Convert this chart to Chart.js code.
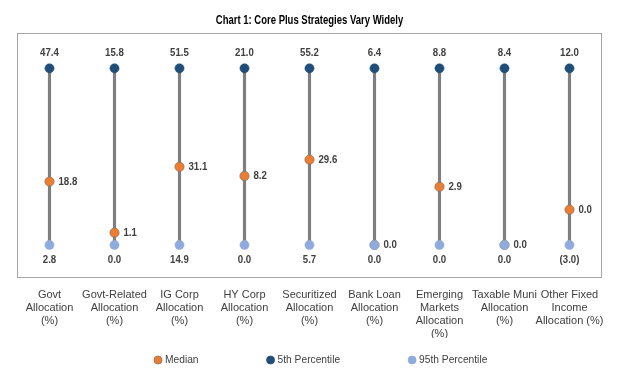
<!DOCTYPE html>
<html>
<head>
<meta charset="utf-8">
<script src="https://cdn.jsdelivr.net/npm/chart.js@4"></script>
<style>
  html, body { margin: 0; padding: 0; background: #ffffff; }
  #wrap { width: 619px; height: 383px; position: relative; }
</style>
</head>
<body>
<div id="wrap"><canvas id="c" width="619" height="383"></canvas></div>
<script>
// ---- Data ----
const categories = [
  ['Govt', 'Allocation', '(%)'],
  ['Govt-Related', 'Allocation', '(%)'],
  ['IG Corp', 'Allocation', '(%)'],
  ['HY Corp', 'Allocation', '(%)'],
  ['Securitized', 'Allocation', '(%)'],
  ['Bank Loan', 'Allocation', '(%)'],
  ['Emerging', 'Markets', 'Allocation', '(%)'],
  ['Taxable Muni', 'Allocation', '(%)'],
  ['Other Fixed', 'Income', 'Allocation (%)']
];
const pct5   = [47.4, 15.8, 51.5, 21.0, 55.2, 6.4, 8.8, 8.4, 12.0];
const median = [18.8, 1.1, 31.1, 8.2, 29.6, 0.0, 2.9, 0.0, 0.0];
const pct95  = [2.8, 0.0, 14.9, 0.0, 5.7, 0.0, 0.0, 0.0, -3.0];
const seriesNames = ['Median', '5th Percentile', '95th Percentile'];
const chartTitle = 'Chart 1: Core Plus Strategies Vary Widely';

// Each category is drawn on its own 0..1 range (95th percentile = 0, 5th percentile = 1)
const norm = (v, i) => {
  const lo = pct95[i], hi = pct5[i];
  return hi === lo ? 0 : (v - lo) / (hi - lo);
};
const fmt = v => v < 0 ? '(' + Math.abs(v).toFixed(1) + ')' : v.toFixed(1);

const FONT = "'Liberation Sans Narrow', 'Arial Narrow', 'Liberation Sans', Arial, sans-serif";
Chart.defaults.font.family = FONT;

const COLORS = { median: '#ED7D31', medianBorder: '#8a7060', p5: '#1F4E79', p95: '#8FAADC', stem: '#7F7F7F' };

// draw horizontally condensed text (reference uses a narrow face)
function narrowText(ctx, text, x, y, align, sx) {
  ctx.save();
  ctx.translate(x, y);
  ctx.scale(sx, 1);
  ctx.textAlign = align;
  ctx.fillText(text, 0, 0);
  ctx.restore();
}

const labelPlugin = {
  id: 'labelsAndBox',
  beforeDatasetsDraw(chart) {
    const { ctx, chartArea: a } = chart;
    ctx.save();
    ctx.strokeStyle = '#A6A6A6';
    ctx.lineWidth = 1;
    ctx.strokeRect(Math.round(a.left) + 0.5, Math.round(a.top) + 0.5,
                   Math.round(a.right - a.left) - 1, Math.round(a.bottom - a.top) - 1);
    // title
    ctx.fillStyle = '#000000';
    ctx.font = 'bold 12.5px ' + FONT;
    ctx.textBaseline = 'middle';
    narrowText(ctx, chartTitle, chart.width / 2, 21, 'center', 0.76);
    ctx.restore();
  },
  afterDatasetsDraw(chart) {
    const { ctx } = chart;
    const mMed = chart.getDatasetMeta(1), m5 = chart.getDatasetMeta(2), m95 = chart.getDatasetMeta(3);
    ctx.save();
    ctx.fillStyle = '#404040';
    ctx.font = 'bold 11.5px ' + FONT;
    ctx.textBaseline = 'middle';
    const SX = 0.84;
    pct5.forEach((v, i) => {
      const p = m5.data[i];
      narrowText(ctx, fmt(v), p.x, p.y - 15, 'center', SX);
    });
    pct95.forEach((v, i) => {
      const p = m95.data[i];
      narrowText(ctx, fmt(v), p.x, p.y + 14.5, 'center', SX);
    });
    median.forEach((v, i) => {
      const p = mMed.data[i];
      narrowText(ctx, fmt(v), p.x + 9, p.y, 'left', SX);
    });

    // Legend
    const items = [
      { text: seriesNames[0], color: COLORS.median, border: COLORS.medianBorder },
      { text: seriesNames[1], color: COLORS.p5, border: COLORS.p5 },
      { text: seriesNames[2], color: COLORS.p95, border: COLORS.p95 }
    ];
    ctx.font = '11px ' + FONT;
    ctx.textBaseline = 'middle';
    let x = 158;
    const y = 360;
    items.forEach(it => {
      ctx.beginPath();
      ctx.arc(x, y, 4, 0, Math.PI * 2);
      ctx.fillStyle = it.color;
      ctx.fill();
      ctx.lineWidth = 0.75;
      ctx.strokeStyle = it.border;
      ctx.stroke();
      ctx.fillStyle = '#404040';
      narrowText(ctx, it.text, x + 7, y, 'left', 0.93);
      x += 7 + ctx.measureText(it.text).width * 0.93 + 72;
    });
    ctx.restore();
  }
};

new Chart(document.getElementById('c'), {
  type: 'bar',
  data: {
    labels: categories,
    datasets: [
      {
        type: 'bar',
        label: 'range',
        data: categories.map(() => [0, 1]),
        backgroundColor: COLORS.stem,
        barThickness: 2.5,
        order: 10
      },
      {
        type: 'line',
        label: seriesNames[0],
        data: median.map((v, i) => norm(v, i)),
        showLine: false,
        pointRadius: 4.6,
        pointBackgroundColor: COLORS.median,
        pointBorderColor: COLORS.medianBorder,
        pointBorderWidth: 0.75,
        order: 3
      },
      {
        type: 'line',
        label: seriesNames[1],
        data: pct5.map((v, i) => norm(v, i)),
        showLine: false,
        pointRadius: 4.6,
        pointBackgroundColor: COLORS.p5,
        pointBorderColor: COLORS.p5,
        pointBorderWidth: 0.5,
        order: 2
      },
      {
        type: 'line',
        label: seriesNames[2],
        data: pct95.map((v, i) => norm(v, i)),
        showLine: false,
        pointRadius: 4.6,
        pointBackgroundColor: COLORS.p95,
        pointBorderColor: COLORS.p95,
        pointBorderWidth: 0.5,
        order: 1
      }
    ]
  },
  options: {
    responsive: false,
    animation: false,
    devicePixelRatio: 1,
    layout: { padding: { left: 17, right: 17, top: 33, bottom: 45 } },
    plugins: {
      legend: { display: false },
      tooltip: { enabled: false },
      title: { display: false }
    },
    scales: {
      x: {
        offset: true,
        grid: { display: false, drawTicks: false },
        border: { display: false },
        ticks: {
          color: '#404040',
          font: { size: 11, family: FONT },
          padding: 10,
          maxRotation: 0,
          autoSkip: false
        },
        afterFit(scale) { scale.height = 60; }
      },
      y: {
        display: false,
        min: -0.187,
        max: 1.2
      }
    }
  },
  plugins: [labelPlugin]
});
</script>
</body>
</html>
